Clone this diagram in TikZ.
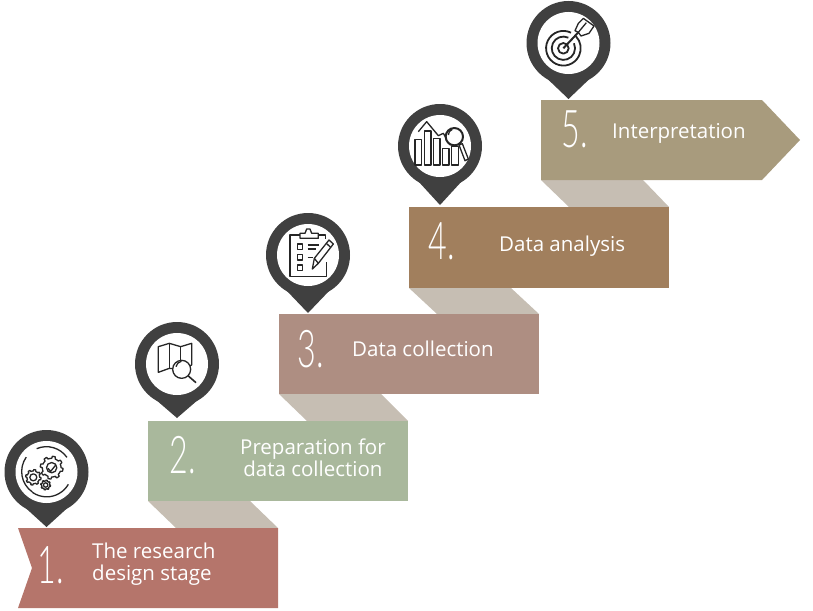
\documentclass[tikz,border=0pt]{standalone}
\usepackage{fontspec}
\setmainfont{Open Sans}
\newfontfamily\numfont{Lato Light}
\usetikzlibrary{positioning}
\definecolor{stepa}{HTML}{B5756B}
\definecolor{stepb}{HTML}{A9B89C}
\definecolor{stepc}{HTML}{AE8E82}
\definecolor{stepd}{HTML}{A17F5D}
\definecolor{stepe}{HTML}{A89B7D}
\definecolor{foldcol}{HTML}{C6BEB3}
\definecolor{pincol}{HTML}{404040}
\definecolor{inkcol}{HTML}{262626}
\tikzset{
  steptext/.style={text=white,anchor=west,align=left,inner sep=0pt,font=\fontsize{20.5}{21.5}\selectfont},
  stepnum/.style={text=white,anchor=center,inner sep=0pt,xscale=.62,font=\fontsize{52}{52}\selectfont\numfont},
  iconline/.style={draw=inkcol,line width=1.3pt,line join=round},
}
% pin: circle with a point below it
\newcommand{\pinmark}[3]{
\fill[pincol] (#1-22,#2+35) -- (#1,#3) -- (#1+22,#2+35) -- cycle;
\fill[pincol] (#1,#2) circle (42);
\fill[white] (#1,#2) circle (31);
}
\newcommand{\gearicon}[3]{
\draw[iconline,fill=white] plot[domain=0:360,samples=97] ({#1+#3*(1+.22*(sin(8*\x)>0))*cos(\x)},{#2+#3*(1+.22*(sin(8*\x)>0))*sin(\x)}) -- cycle;
\draw[iconline] (#1,#2) circle ({#3*.55});
}
\begin{document}
\begin{tikzpicture}[x=1pt,y=-1pt]
\useasboundingbox (0,0) rectangle (813,610);
% folds
\fill[foldcol] (148,501) -- (250,501) -- (278,528) -- (176,528) -- cycle;
\fill[foldcol] (279,394) -- (381,394) -- (408,421) -- (307,421) -- cycle;
\fill[foldcol] (409,288) -- (511,288) -- (539,314) -- (437,314) -- cycle;
\fill[foldcol] (541,180) -- (643,180) -- (669,207) -- (569,207) -- cycle;
% banners
\fill[stepa] (18,528) -- (278,528) -- (278,608) -- (18,608) -- (32,568) -- cycle;
\fill[stepb] (148,421) rectangle (408,501);
\fill[stepc] (279,314) rectangle (539,394);
\fill[stepd] (409,207) rectangle (669,288);
\fill[stepe] (541,100) -- (762,100) -- (800,140) -- (762,180) -- (541,180) -- cycle;
% numbers
\node[stepnum] (numa) at (51,565) {1.};
\node[stepnum] (numb) at (183,455) {2.};
\node[stepnum] (numc) at (311,349) {3.};
\node[stepnum] (numd) at (442,241) {4.};
\node[stepnum] (nume) at (575,129) {5.};
% labels
\node[steptext] (texta) at (92,564) {The research\\design stage};
\node[steptext,align=center] (textb) at (240,458) {Preparation for\\data collection};
\node[steptext] (textc) at (352,349) {Data collection};
\node[steptext] (textd) at (499,246) {Data analysis};
\node[steptext] (texte) at (612,133) {Interpretation};
% pins
\pinmark{46.5}{472}{527}
\pinmark{177}{364}{418}
\pinmark{308}{255}{313}
\pinmark{440}{146}{205}
\pinmark{568.5}{43}{99}
% icon 1
\begin{scope}[shift={(0,420)},scale=1/3]
\draw[iconline] (110,86) arc (-113:-35:75);
\draw[iconline] (205,193) arc (30:125:75);
\draw[iconline] (97,216) arc (125:215:75);
\gearicon{155}{143}{28}
\gearicon{100}{172}{19}
\gearicon{137}{195}{12}
\draw[iconline] (144,145) -- (152,154) -- (168,134);
\end{scope}
% icon 2
\begin{scope}[shift={(120,310)},scale=1/3]
\draw[iconline] (115,110) -- (148,100) -- (182,110) -- (215,100) -- (215,165) -- (182,178) -- (148,175) -- (115,187) -- cycle;
\draw[iconline] (148,100) -- (148,175) (182,110) -- (182,150);
\draw[iconline,fill=white] (185,178) circle (27);
\draw[iconline] (168,170) arc (190:260:20);
\draw[iconline,line width=1.6pt] (205,198) -- (228,218);
\end{scope}
% icon 3
\begin{scope}[shift={(255,205)},scale=1/3]
\draw[iconline] (135,90) -- (105,90) -- (105,215) -- (215,215) -- (215,170);
\draw[iconline] (190,90) -- (212,90) -- (212,102);
\draw[iconline] (135,100) -- (190,100) -- (190,85) -- (170,85) -- (165,72) -- (155,72) -- (150,85) -- (135,85) -- cycle;
\foreach \ypos in {125,157,188}
  \draw[iconline] (127,\ypos-8) rectangle (143,\ypos+8);
\draw[iconline] (158,120) -- (192,120) (158,132) -- (183,132) (158,157) -- (175,157);
\draw[iconline,fill=white] (172,192) -- (178,160) -- (222,105) -- (235,117) -- (190,175) -- cycle;
\draw[iconline] (178,160) -- (190,175) (214,115) -- (227,127);
\end{scope}
% icon 4
\begin{scope}[shift={(385,95)},scale=1/3]
\foreach \xpos/\ypos in {90/133,118/108,145/130,172/160,200/155}
  \draw[iconline] (\xpos,\ypos) rectangle (\xpos+20,210);
\draw[iconline] (100,110) -- (125,80) -- (160,122) -- (175,115) -- (195,150);
\draw[iconline,line width=2pt,fill=white] (208,125) circle (26);
\draw[iconline] (190,120) arc (180:250:18);
\draw[iconline,fill=white] (222,150) -- (232,146) -- (250,192) -- (240,197) -- cycle;
\end{scope}
% icon 5
\begin{scope}[shift={(515,0)},scale=1/3]
\draw[iconline,line width=1.8pt] (168,98) arc (-64:-404:52);
\draw[iconline,line width=1.8pt] (160,113) arc (-65:-385:35);
\draw[iconline,line width=1.8pt] (145,145) circle (16);
\draw[iconline,line width=2pt] (145,145) -- (190,97);
\draw[iconline,fill=white] (180,92) -- (190,70) -- (205,55) -- (237,78) -- (222,100) -- (198,108) -- (190,97) -- cycle;
\draw[iconline] (190,97) -- (214,68);
\end{scope}
\end{tikzpicture}
\end{document}
